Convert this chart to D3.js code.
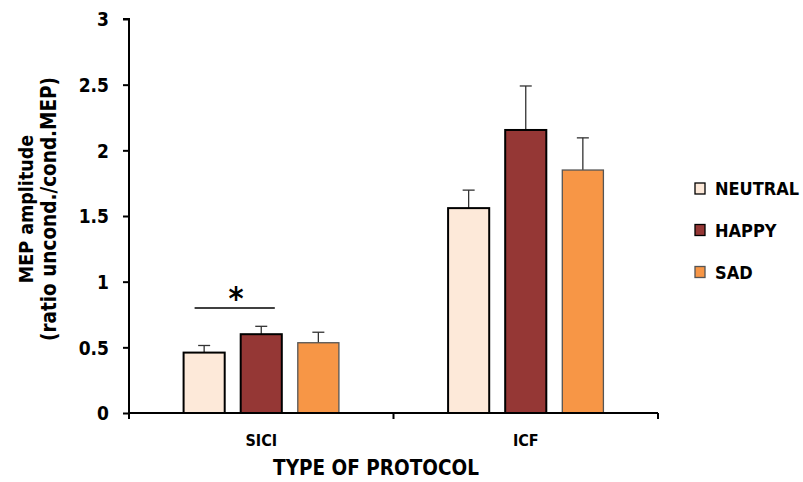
<!DOCTYPE html>
<html>
<head>
<meta charset="utf-8">
<script src="https://cdn.jsdelivr.net/npm/d3@7/dist/d3.min.js"></script>
<style>
  body { margin: 0; background: #fff; }
  svg text { font-family: "DejaVu Sans Condensed", "DejaVu Sans", sans-serif; font-weight: bold; fill: #000; }
</style>
</head>
<body>
<svg id="chart" width="803" height="482"></svg>
<script>
// Protocol groups and emotion conditions
const protocols = ["SICI", "ICF"];
const conditions = ["NEUTRAL", "HAPPY", "SAD"];
// Mean MEP amplitude per condition, in protocol order
const neutralMeans = [0.46, 1.56];
const happyMeans = [0.60, 2.155];
const sadMeans = [0.535, 1.85];
// Standard error per condition
const neutralErr = [0.054, 0.137];
const happyErr = [0.06, 0.335];
const sadErr = [0.08, 0.245];
const yTicks = [0, 0.5, 1, 1.5, 2, 2.5, 3];
const colors = ["#FDE9D9", "#953735", "#F79646"];
const strokes = ["#000", "#000", "#555"];

const rows = protocols.map((p, i) => ({
  protocol: p,
  values: [
    { cond: "NEUTRAL", mean: neutralMeans[i], err: neutralErr[i] },
    { cond: "HAPPY", mean: happyMeans[i], err: happyErr[i] },
    { cond: "SAD", mean: sadMeans[i], err: sadErr[i] }
  ]
}));

const svg = d3.select("#chart");
const m = { left: 129, right: 658, top: 19, bottom: 413 };

const x0 = d3.scaleBand().domain(protocols).range([m.left, m.right]).padding(0);
const x1 = d3.scaleBand().domain(conditions).range([0, x0.bandwidth()])
  .paddingInner(0.28).paddingOuter(0.956);
const y = d3.scaleLinear().domain([0, 3]).range([m.bottom, m.top]);

// Bars with error bars
const groups = svg.selectAll("g.group").data(rows).join("g")
  .attr("class", "group")
  .attr("transform", d => `translate(${x0(d.protocol)},0)`);

groups.selectAll("line.err").data(d => d.values).join("line")
  .attr("class", "err")
  .attr("x1", d => x1(d.cond) + x1.bandwidth() / 2)
  .attr("x2", d => x1(d.cond) + x1.bandwidth() / 2)
  .attr("y1", d => y(d.mean))
  .attr("y2", d => y(d.mean + d.err))
  .attr("stroke", "#333").attr("stroke-width", 1.3);
groups.selectAll("line.cap").data(d => d.values).join("line")
  .attr("class", "cap")
  .attr("x1", d => x1(d.cond) + x1.bandwidth() / 2 - 6)
  .attr("x2", d => x1(d.cond) + x1.bandwidth() / 2 + 6)
  .attr("y1", d => y(d.mean + d.err))
  .attr("y2", d => y(d.mean + d.err))
  .attr("stroke", "#333").attr("stroke-width", 1.3);

groups.selectAll("rect").data(d => d.values).join("rect")
  .attr("x", d => x1(d.cond))
  .attr("y", d => y(d.mean))
  .attr("width", x1.bandwidth())
  .attr("height", d => y(0) - y(d.mean))
  .attr("fill", (d, i) => colors[i])
  .attr("stroke", (d, i) => strokes[i])
  .attr("stroke-width", (d, i) => i === 2 ? 1.3 : 2);

// Y axis
const yAxis = svg.append("g")
  .attr("transform", `translate(${m.left},0)`)
  .call(d3.axisLeft(y).tickValues(yTicks).tickSize(6).tickPadding(14).tickFormat(d3.format("")));
yAxis.select(".domain").attr("stroke", "#000").attr("stroke-width", 2).attr("d", `M-6,${m.top}H0V${m.bottom}`);
yAxis.selectAll(".tick line").attr("stroke", "#000").attr("stroke-width", 2);
yAxis.selectAll(".tick text").attr("font-size", 19).attr("dy", "0.36em");

// X axis
const xAxis = svg.append("g").attr("transform", `translate(0,${m.bottom})`);
xAxis.append("line").attr("x1", m.left).attr("x2", m.right).attr("y1", 0).attr("y2", 0)
  .attr("stroke", "#000").attr("stroke-width", 2);
xAxis.selectAll("line.tick").data([...protocols.map(p => x0(p)), m.right]).join("line")
  .attr("class", "tick")
  .attr("x1", d => d).attr("x2", d => d).attr("y1", 0).attr("y2", 6)
  .attr("stroke", "#000").attr("stroke-width", 2);
xAxis.selectAll("text").data(protocols).join("text")
  .attr("x", d => x0(d) + x0.bandwidth() / 2)
  .attr("y", 33)
  .attr("text-anchor", "middle").attr("font-size", 16).text(d => d);

// Axis titles
svg.append("text").attr("x", 376).attr("y", 475).attr("text-anchor", "middle")
  .attr("font-size", 20.5).text("TYPE OF PROTOCOL");
const yt = svg.append("text").attr("transform", "translate(0,209) rotate(-90)")
  .attr("text-anchor", "middle").attr("font-size", 19.5);
yt.append("tspan").attr("x", 0).attr("y", 33).text("MEP amplitude");
yt.append("tspan").attr("x", 0).attr("y", 56).attr("font-size", 20.5).text("(ratio uncond./cond.MEP)");

// Significance marker between NEUTRAL and HAPPY in SICI
const sx = x0("SICI");
svg.append("line")
  .attr("x1", sx + x1("NEUTRAL") + 11).attr("x2", sx + x1("HAPPY") + x1.bandwidth() - 7)
  .attr("y1", y(0.80)).attr("y2", y(0.80))
  .attr("stroke", "#000").attr("stroke-width", 1.5);
svg.append("text").attr("x", 236).attr("y", 309)
  .attr("text-anchor", "middle").attr("font-size", 32).text("*");

// Legend
const lg = svg.append("g").attr("transform", "translate(695,0)");
const ly = [188.5, 230, 272];
conditions.forEach((c, i) => {
  lg.append("rect").attr("x", 0).attr("y", ly[i] - 5.5).attr("width", 10).attr("height", 11)
    .attr("fill", colors[i]).attr("stroke", strokes[i]).attr("stroke-width", 1.3);
  lg.append("text").attr("x", 20).attr("y", ly[i] + 6.5).attr("font-size", 18).text(c);
});
</script>
</body>
</html>
